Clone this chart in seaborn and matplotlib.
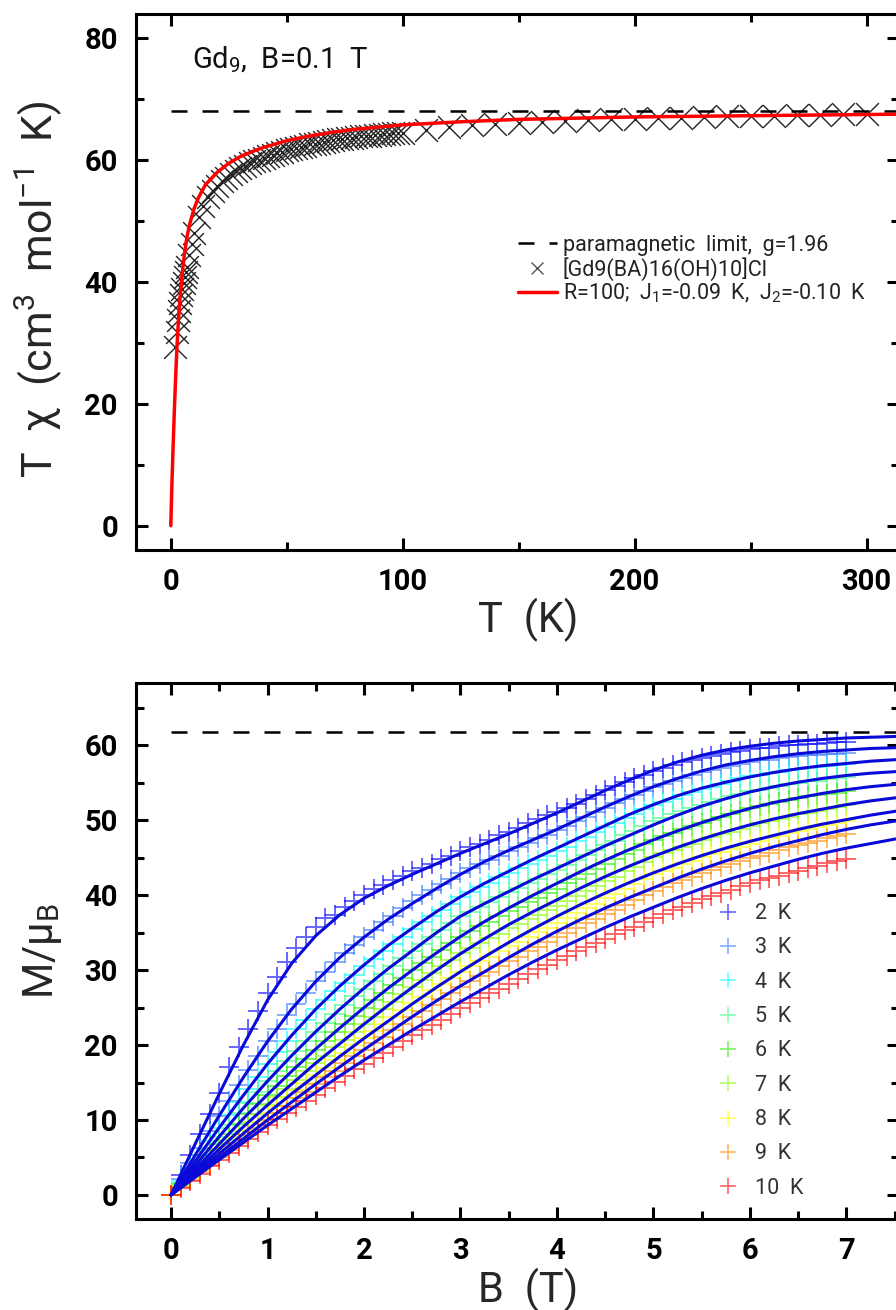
import numpy as np
import pandas as pd
import seaborn as sns
import matplotlib.pyplot as plt
from matplotlib.lines import Line2D
from matplotlib.ticker import MultipleLocator

# ---- top panel: T*chi(T) at B = 0.1 T ----
T_DATA = [2, 2.5, 3, 3.5, 4, 4.5, 5, 5.5, 6, 6.5, 7, 8, 9, 10,
          12, 14, 16, 18, 20, 22, 24, 26, 28, 30, 32, 34, 36, 38, 40, 42, 44, 46, 48, 50,
          52, 54, 56, 58, 60, 62, 64, 66, 68, 70, 72, 74, 76, 78, 80, 82, 84, 86, 88, 90,
          92, 94, 96, 98, 100, 110, 120, 130, 140, 150, 160, 170, 180, 190, 200,
          210, 220, 230, 240, 250, 260, 270, 280, 290, 300]
TCHI_DATA = [29.3, 31.8, 33.8, 35.3, 36.6, 37.8, 38.9, 39.9, 40.8, 41.6, 42.4, 44.5, 46.3, 48.0,
             50.6, 52.5, 53.9, 55.0, 55.8, 56.5, 57.1, 57.7, 58.2, 58.7, 59.1, 59.5, 59.8, 60.1,
             60.4, 60.7, 60.9, 61.2, 61.4, 61.6, 61.8, 62.0, 62.2, 62.4, 62.6, 62.7, 62.9, 63.0,
             63.2, 63.3, 63.4, 63.5, 63.6, 63.7, 63.8, 63.9, 64.0, 64.0, 64.1, 64.2, 64.3, 64.3,
             64.4, 64.5, 64.5, 65.0, 65.4, 65.7, 65.9, 66.1, 66.3, 66.4, 66.6, 66.7, 66.8, 66.9,
             67.0, 67.1, 67.2, 67.2, 67.3, 67.4, 67.4, 67.5, 67.6]
T_FIT = [0, 0.5, 1, 1.5, 2, 2.5, 3, 3.5, 4, 5, 6, 7, 8, 10, 12, 15, 20, 25, 30, 35, 40,
         50, 60, 70, 80, 100, 125, 150, 200, 250, 300, 330]
TCHI_FIT = [0, 7, 13, 18.5, 23.5, 28, 31.8, 34.8, 37.4, 41.6, 44.9, 47.4, 49.3, 52.0, 53.9,
            56.0, 58.0, 59.5, 60.6, 61.4, 62.1, 63.2, 64.0, 64.6, 65.1, 65.8, 66.3, 66.7,
            67.1, 67.3, 67.5, 67.6]
TCHI_LIMIT = 68.1
TOP_LABELS = ["paramagnetic  limit,  g=1.96", "[Gd9(BA)16(OH)10]Cl",
              "R=100;  J$_1$=-0.09  K,  J$_2$=-0.10  K"]

# ---- bottom panel: M(B) at 2..10 K ----
B_DATA = [0.0, 0.1, 0.2, 0.3, 0.4, 0.5, 0.6, 0.7, 0.8, 0.9, 1.0, 1.1, 1.2, 1.3, 1.4, 1.5,
          1.6, 1.7, 1.8, 1.9, 2.0, 2.1, 2.2, 2.3, 2.4, 2.5, 2.6, 2.7, 2.8, 2.9, 3.0, 3.1,
          3.2, 3.3, 3.4, 3.5, 3.6, 3.7, 3.8, 3.9, 4.0, 4.1, 4.2, 4.3, 4.4, 4.5, 4.6, 4.7,
          4.8, 4.9, 5.0, 5.1, 5.2, 5.3, 5.4, 5.5, 5.6, 5.7, 5.8, 5.9, 6.0, 6.1, 6.2, 6.3,
          6.4, 6.5, 6.6, 6.7, 6.8, 6.9, 7.0]
M_2K = [0, 2.7, 5.4, 8.1, 10.8, 13.6, 17.1, 19.7, 22.2, 24.6, 27.0, 29.1, 31.1, 32.9, 34.4,
        35.8, 37.0, 37.4, 38.4, 39.3, 40.1, 40.8, 41.4, 42.0, 42.6, 43.2, 43.7, 44.2, 44.8,
        45.3, 45.9, 46.4, 46.9, 47.4, 48.0, 48.5, 49.0, 49.6, 50.2, 50.7, 51.1, 51.6, 52.2,
        52.8, 53.4, 54.0, 54.6, 55.1, 55.6, 56.1, 56.6, 57.0, 57.4, 57.8, 58.1, 58.3, 58.6,
        58.9, 59.1, 59.3, 59.5, 59.6, 59.7, 59.9, 60.0, 60.1, 60.2, 60.2, 60.3, 60.4, 60.4]
M_3K = [0, 2.1, 4.2, 6.3, 8.5, 10.6, 12.6, 14.7, 16.7, 18.6, 20.5, 22.2, 24.0, 25.5, 27.0,
        28.5, 29.8, 31.1, 32.3, 33.4, 34.5, 35.4, 36.4, 37.3, 38.3, 39.2, 40.0, 40.7, 41.5,
        42.2, 43.0, 43.6, 44.2, 44.7, 45.3, 45.9, 46.5, 47.0, 47.6, 48.1, 48.7, 49.3, 49.9,
        50.5, 51.1, 51.7, 52.3, 52.8, 53.4, 53.9, 54.4, 54.8, 55.2, 55.6, 56.0, 56.4, 56.7,
        57.0, 57.2, 57.5, 57.8, 58.0, 58.1, 58.3, 58.4, 58.6, 58.7, 58.7, 58.8, 58.9, 59.0]
M_4K = [0, 1.8, 3.6, 5.4, 7.2, 9.0, 10.7, 12.4, 14.1, 15.8, 17.5, 19.1, 20.6, 22.1, 23.4,
        24.8, 26.0, 27.2, 28.3, 29.4, 30.5, 31.5, 32.5, 33.5, 34.5, 35.5, 36.4, 37.2, 38.1,
        38.9, 39.8, 40.4, 41.1, 41.7, 42.4, 43.0, 43.6, 44.2, 44.7, 45.3, 45.9, 46.5, 47.2,
        47.8, 48.5, 49.1, 49.7, 50.3, 50.9, 51.5, 52.1, 52.5, 52.9, 53.4, 53.8, 54.2, 54.5,
        54.9, 55.2, 55.6, 55.9, 56.1, 56.3, 56.5, 56.7, 56.9, 57.0, 57.1, 57.3, 57.4, 57.5]
M_5K = [0, 1.6, 3.1, 4.7, 6.2, 7.8, 9.3, 10.9, 12.3, 13.8, 15.2, 16.6, 17.9, 19.2, 20.5,
        21.8, 23.0, 24.2, 25.4, 26.5, 27.5, 28.5, 29.5, 30.6, 31.6, 32.6, 33.5, 34.4, 35.4,
        36.3, 37.2, 37.8, 38.5, 39.1, 39.8, 40.4, 41.0, 41.6, 42.2, 42.8, 43.4, 44.1, 44.7,
        45.4, 46.0, 46.7, 47.3, 48.0, 48.6, 49.3, 49.9, 50.3, 50.8, 51.2, 51.7, 52.1, 52.5,
        52.8, 53.2, 53.5, 53.9, 54.1, 54.3, 54.6, 54.8, 55.0, 55.2, 55.3, 55.5, 55.6, 55.8]
M_6K = [0, 1.4, 2.7, 4.1, 5.4, 6.8, 8.2, 9.5, 10.8, 12.1, 13.4, 14.6, 15.9, 17.1, 18.2,
        19.4, 20.6, 21.7, 22.8, 23.9, 25.0, 26.0, 27.0, 28.0, 29.0, 30.0, 30.9, 31.8, 32.7,
        33.6, 34.5, 35.2, 35.9, 36.5, 37.2, 37.9, 38.5, 39.1, 39.7, 40.3, 40.9, 41.6, 42.2,
        42.9, 43.5, 44.2, 44.8, 45.5, 46.1, 46.8, 47.4, 47.9, 48.3, 48.8, 49.2, 49.7, 50.1,
        50.5, 50.8, 51.2, 51.6, 51.9, 52.2, 52.4, 52.7, 53.0, 53.2, 53.4, 53.5, 53.7, 53.9]
M_7K = [0, 1.2, 2.4, 3.7, 4.9, 6.1, 7.3, 8.5, 9.7, 10.8, 12.0, 13.1, 14.2, 15.4, 16.5,
        17.6, 18.6, 19.7, 20.7, 21.8, 22.8, 23.8, 24.8, 25.8, 26.8, 27.8, 28.7, 29.6, 30.5,
        31.4, 32.3, 33.0, 33.6, 34.3, 34.9, 35.6, 36.2, 36.8, 37.4, 38.0, 38.6, 39.3, 39.9,
        40.6, 41.2, 41.9, 42.5, 43.2, 43.8, 44.5, 45.1, 45.6, 46.0, 46.5, 46.9, 47.4, 47.8,
        48.2, 48.5, 48.9, 49.3, 49.6, 49.9, 50.2, 50.5, 50.8, 51.0, 51.3, 51.5, 51.8, 52.0]
M_8K = [0, 1.1, 2.2, 3.3, 4.4, 5.5, 6.6, 7.7, 8.7, 9.8, 10.9, 11.9, 13.0, 14.0, 15.0,
        16.0, 17.0, 18.0, 19.0, 20.0, 21.0, 21.9, 22.8, 23.8, 24.7, 25.6, 26.4, 27.3, 28.1,
        29.0, 29.8, 30.5, 31.2, 31.8, 32.5, 33.2, 33.8, 34.4, 35.1, 35.7, 36.3, 37.0, 37.6,
        38.3, 38.9, 39.6, 40.2, 40.9, 41.5, 42.2, 42.8, 43.3, 43.7, 44.2, 44.6, 45.1, 45.5,
        45.8, 46.2, 46.5, 46.9, 47.2, 47.6, 47.9, 48.3, 48.6, 48.9, 49.1, 49.4, 49.6, 49.9]
M_9K = [0, 1.0, 2.0, 3.0, 4.0, 5.0, 6.0, 7.0, 8.0, 9.0, 10.0, 11.0, 11.9, 12.9, 13.8,
        14.8, 15.7, 16.6, 17.6, 18.5, 19.4, 20.3, 21.1, 22.0, 22.8, 23.7, 24.5, 25.3, 26.2,
        27.0, 27.8, 28.5, 29.2, 29.8, 30.5, 31.2, 31.8, 32.5, 33.1, 33.8, 34.4, 35.0, 35.6,
        36.3, 36.9, 37.5, 38.1, 38.7, 39.4, 40.0, 40.6, 41.1, 41.6, 42.0, 42.5, 43.0, 43.4,
        43.8, 44.2, 44.6, 45.0, 45.3, 45.7, 46.0, 46.4, 46.7, 47.0, 47.3, 47.6, 47.9, 48.2]
M_10K = [0, 0.9, 1.9, 2.8, 3.8, 4.7, 5.6, 6.5, 7.5, 8.4, 9.3, 10.1, 11.0, 11.7, 12.6,
         13.4, 14.3, 15.1, 15.9, 16.8, 17.5, 18.3, 19.0, 19.8, 20.5, 21.3, 22.0, 22.7, 23.4,
         24.2, 24.9, 25.6, 26.3, 26.9, 27.5, 28.2, 28.8, 29.5, 30.1, 30.7, 31.3, 31.9, 32.5,
         33.1, 33.6, 34.2, 34.8, 35.4, 35.8, 36.4, 37.0, 37.5, 38.0, 38.5, 39.0, 39.5, 39.9,
         40.3, 40.7, 41.2, 41.6, 42.0, 42.3, 42.6, 43.0, 43.3, 43.6, 43.9, 44.3, 44.6, 44.9]

# model curves, read every 0.25 T up to the right edge
B_FIT = [0, 0.25, 0.5, 0.75, 1, 1.25, 1.5, 1.75, 2, 2.25, 2.5, 2.75, 3, 3.25, 3.5, 3.75,
         4, 4.25, 4.5, 4.75, 5, 5.25, 5.5, 5.75, 6, 6.25, 6.5, 6.75, 7, 7.25, 7.5, 7.6]
FIT_2K = [0, 6.8, 13.5, 20.0, 26.0, 30.9, 34.6, 37.4, 39.6, 41.3, 42.8, 44.2, 45.6, 46.9, 48.2, 49.6,
          51.0, 52.5, 54.0, 55.4, 56.7, 57.8, 58.7, 59.4, 59.9, 60.3, 60.6, 60.8, 61.0, 61.1, 61.2, 61.25]
FIT_3K = [0, 5.3, 10.6, 15.7, 20.5, 24.8, 28.5, 31.7, 34.4, 36.8, 38.9, 40.9, 42.8, 44.5, 46.0, 47.4,
          48.8, 50.3, 51.8, 53.2, 54.5, 55.6, 56.6, 57.4, 58.0, 58.5, 58.9, 59.2, 59.4, 59.6, 59.7, 59.75]
FIT_4K = [0, 4.5, 9.0, 13.3, 17.5, 21.3, 24.8, 27.9, 30.7, 33.3, 35.6, 37.8, 39.8, 41.6, 43.2, 44.8,
          46.3, 47.8, 49.3, 50.8, 52.1, 53.3, 54.3, 55.1, 55.8, 56.4, 56.9, 57.3, 57.6, 57.9, 58.1, 58.2]
FIT_5K = [0, 3.9, 7.8, 11.6, 15.2, 18.6, 21.8, 24.8, 27.6, 30.2, 32.6, 35.0, 37.2, 38.9, 40.5, 42.1,
          43.6, 45.1, 46.6, 48.0, 49.4, 50.7, 51.9, 52.9, 53.8, 54.5, 55.1, 55.6, 56.0, 56.3, 56.5, 56.6]
FIT_6K = [0, 3.4, 6.8, 10.2, 13.4, 16.5, 19.5, 22.3, 25.0, 27.6, 30.0, 32.3, 34.5, 36.5, 38.3, 40.0,
          41.6, 43.2, 44.7, 46.1, 47.4, 48.6, 49.7, 50.7, 51.6, 52.4, 53.0, 53.6, 54.1, 54.5, 54.8, 54.9]
FIT_7K = [0, 3.05, 6.1, 9.1, 12.0, 14.8, 17.6, 20.2, 22.8, 25.3, 27.7, 30.0, 32.2, 34.2, 36.1, 37.8,
          39.4, 41.0, 42.5, 43.9, 45.2, 46.4, 47.5, 48.5, 49.4, 50.2, 50.9, 51.5, 52.1, 52.6, 53.0, 53.1]
FIT_8K = [0, 2.75, 5.5, 8.2, 10.9, 13.5, 16.0, 18.5, 20.9, 23.2, 25.5, 27.7, 29.8, 31.8, 33.7, 35.5,
          37.2, 38.8, 40.3, 41.7, 43.0, 44.2, 45.3, 46.3, 47.2, 48.0, 48.8, 49.5, 50.1, 50.7, 51.2, 51.4]
FIT_9K = [0, 2.5, 5.0, 7.5, 10.0, 12.4, 14.8, 17.1, 19.4, 21.6, 23.8, 25.9, 27.9, 29.8, 31.7, 33.5,
          35.2, 36.8, 38.3, 39.7, 41.0, 42.3, 43.5, 44.6, 45.6, 46.5, 47.3, 48.1, 48.8, 49.4, 49.9, 50.1]
FIT_10K = [0, 2.35, 4.7, 7.0, 9.3, 11.5, 13.7, 15.9, 18.0, 20.0, 22.0, 23.9, 25.8, 27.6, 29.4, 31.1,
           32.7, 34.2, 35.7, 37.1, 38.4, 39.7, 40.9, 42.0, 43.0, 43.9, 44.8, 45.6, 46.3, 46.9, 47.5, 47.7]
M_LIMIT = 61.8

TEMPS = ["2  K", "3  K", "4  K", "5  K", "6  K", "7  K", "8  K", "9  K", "10  K"]
COLORS = ["#0000ff", "#3377ff", "#00ffff", "#33ff88", "#22ee00", "#88ff00", "#ffff00", "#ff8800", "#ff0000"]
M_ALL = [M_2K, M_3K, M_4K, M_5K, M_6K, M_7K, M_8K, M_9K, M_10K]
FIT_ALL = [FIT_2K, FIT_3K, FIT_4K, FIT_5K, FIT_6K, FIT_7K, FIT_8K, FIT_9K, FIT_10K]

sns.set_style("ticks")
plt.rcParams["font.family"] = ["Roboto", "DejaVu Sans"]
plt.rcParams["mathtext.default"] = "regular"

W, H = 896, 1310
fig = plt.figure(figsize=(W / 100, H / 100), dpi=100)
ax1 = fig.add_axes([136 / W, 1 - 550 / H, 763 / W, 536 / H])
ax2 = fig.add_axes([136 / W, 1 - 1219.3 / H, 763 / W, 536 / H])


def style_axes(ax):
    for s in ax.spines.values():
        s.set_linewidth(2.2)
        s.set_color("black")
        s.set_visible(True)
    ax.tick_params(which="both", direction="in", top=True, right=True,
                   width=2.2, color="black", labelcolor="black")
    ax.tick_params(which="major", length=8.6, labelsize=21, pad=13)
    ax.tick_params(which="minor", length=5.8)
    for lab in ax.get_xticklabels() + ax.get_yticklabels():
        lab.set_fontweight("bold")


# top panel
dash = (0, (6.4, 6))
sns.scatterplot(x=T_DATA, y=TCHI_DATA, marker="x", s=270, color="#222222",
                linewidth=1.0, ax=ax1, zorder=2)
sns.lineplot(x=T_FIT, y=TCHI_FIT, color="red", lw=2.5, sort=False, estimator=None,
             ax=ax1, zorder=3)
ax1.set_xlim(-15, 314)
ax1.set_ylim(-4, 84)
ax1.hlines(TCHI_LIMIT, T_FIT[0], 330, colors="black", lw=1.8, linestyles=dash, zorder=2.5)
ax1.xaxis.set_major_locator(MultipleLocator(100))
ax1.xaxis.set_minor_locator(MultipleLocator(50))
ax1.yaxis.set_major_locator(MultipleLocator(20))
ax1.yaxis.set_minor_locator(MultipleLocator(10))
style_axes(ax1)
ax1.set_xlabel("T  (K)", fontsize=30)
ax1.set_ylabel("T  \u03c7  (cm$^3$  mol$^{-1}$  K)", fontsize=31)
ax1.xaxis.set_label_coords(0.514, -0.09)
ax1.yaxis.set_label_coords(-0.095, 0.487)
ax1.text(0.0734, 0.899, "Gd$_9$,  B=0.1  T", transform=ax1.transAxes, fontsize=21,
         va="baseline", ha="left", color="#111111")

h_top = [Line2D([], [], color="black", lw=1.8, linestyle=dash),
         Line2D([], [], color="#555555", marker="x", ls="", markersize=9, mew=1.0),
         Line2D([], [], color="red", lw=2.5)]
ax1.legend(h_top, TOP_LABELS, loc="upper left", bbox_to_anchor=(0.5007, 0.588),
           frameon=False, fontsize=15.5, handlelength=1.8, handletextpad=0.28,
           labelspacing=0.05, borderpad=0, borderaxespad=0, labelcolor="#222222")

# bottom panel
for temp, m, c in zip(TEMPS, M_ALL, COLORS):
    sns.scatterplot(x=B_DATA, y=m, marker="+", s=210, color=c, alpha=0.6,
                    linewidth=1.4, ax=ax2, zorder=2)
for fit in FIT_ALL:
    sns.lineplot(x=B_FIT, y=fit, color="#0a0ad8", lw=2.2, sort=False, estimator=None,
                 ax=ax2, zorder=3)
ax2.set_xlim(-0.363, 7.545)
ax2.set_ylim(-3.25, 68.3)
ax2.hlines(M_LIMIT, B_FIT[0], 8, colors="black", lw=1.8, linestyles=dash, zorder=2.5)
ax2.xaxis.set_major_locator(MultipleLocator(1))
ax2.xaxis.set_minor_locator(MultipleLocator(0.5))
ax2.yaxis.set_major_locator(MultipleLocator(10))
ax2.yaxis.set_minor_locator(MultipleLocator(5))
style_axes(ax2)
ax2.set_xlabel("B  (T)", fontsize=30)
ax2.set_ylabel("M/\u03bc$_B$", fontsize=30)
ax2.xaxis.set_label_coords(0.514, -0.09)
ax2.yaxis.set_label_coords(-0.095, 0.5)

h_bot = [Line2D([], [], color=c, marker="+", ls="", markersize=11.5, mew=1.2, alpha=0.6)
         for c in COLORS]
ax2.legend(h_bot, TEMPS, loc="upper left", bbox_to_anchor=(0.7536, 0.59),
           frameon=False, fontsize=15.5, handlelength=1.6, handletextpad=0.45,
           labelspacing=0.62, borderpad=0, borderaxespad=0, labelcolor="#333333")

fig.savefig("out.png", dpi=100)
